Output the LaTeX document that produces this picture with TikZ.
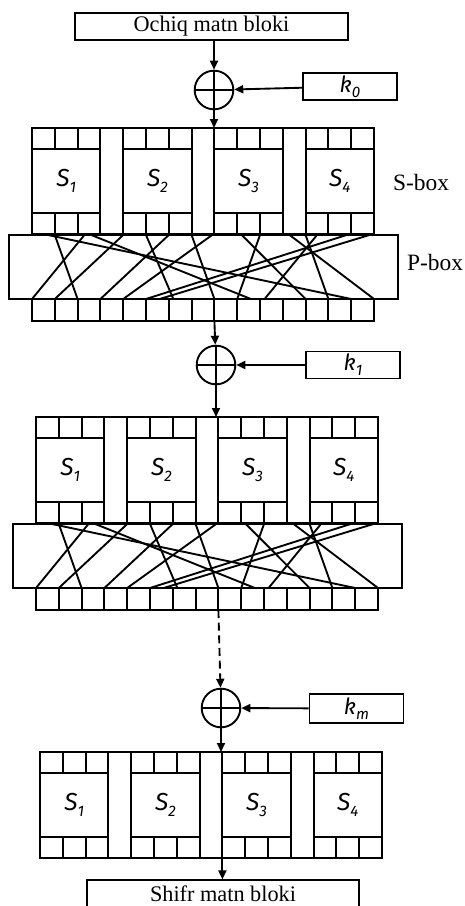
\documentclass[tikz,border=0pt]{standalone}
\usepackage{fontspec}
\setmainfont{Liberation Serif}
\newfontfamily\lblfont{Fira Sans}
\usetikzlibrary{arrows.meta,positioning,calc}
\newcommand{\slbl}[2]{{\lblfont\itshape #1}\raisebox{-0.5ex}{\lblfont\itshape\fontsize{13}{13}\selectfont #2}}

\begin{document}
\begin{tikzpicture}[
x=0.3mm,
y=-0.3mm,
line width=1.6pt,
every node/.style={font=\fontsize{19}{21}\selectfont},
blockbox/.style={rectangle,draw,inner sep=0pt,minimum width=82mm,minimum height=8.1mm},
keybox/.style={rectangle,draw,inner sep=0pt,minimum width=28.2mm,minimum height=8.1mm},
xor/.style={circle,draw,inner sep=0pt,minimum size=11.6mm,path picture={
  \draw (path picture bounding box.north) -- (path picture bounding box.south)
        (path picture bounding box.west) -- (path picture bounding box.east);}},
sbox/.style={rectangle,draw,inner sep=0pt,minimum width=20.52mm,minimum height=19.2mm,font=\fontsize{21}{23}\selectfont},
pbox/.style={rectangle,draw,inner sep=0pt,minimum width=116.7mm,minimum height=19.2mm},
arr/.style={-{Triangle[length=2.7mm,width=2.4mm]}},
wire/.style={line join=round,line cap=round},
side/.style={font=\fontsize{20}{22}\selectfont}
]
\useasboundingbox (0,0) rectangle (464,906);
\clip (0,0) rectangle (464,906);

% S-box layers
\foreach \bx/\by/\b in {32/128/1,36/417/2,40/752/3}{
  \draw (\bx,\by) rectangle ++(342,106);
  \foreach \k in {0,...,3}{
    \pgfmathtruncatemacro{\n}{\k+1}
    \node[sbox] (s\b\n) at (\bx+91.2*\k+34.2,\by+53) {\slbl{S}{\n}};
    \draw (\bx+91.2*\k,\by) -- ++(0,106) (\bx+91.2*\k+68.4,\by) -- ++(0,106);
    \draw (\bx+91.2*\k+22.8,\by) -- ++(0,21) (\bx+91.2*\k+45.6,\by) -- ++(0,21);
    \draw (\bx+91.2*\k+22.8,\by+85) -- ++(0,21) (\bx+91.2*\k+45.6,\by+85) -- ++(0,21);
  }
}

% P-box layers
\foreach \bx/\by/\b in {32/128/1,36/417/2}{
  \node[pbox] (p\b) at (\bx+171.5,\by+139) {};
  \draw (\bx,\by+171) rectangle ++(342,22);
  \foreach \i in {1,...,14}
    \draw (\bx+22.8*\i,\by+171) -- ++(0,22);
  \foreach \i/\o in {0.7/14,1/2,2.3/0,2.6/9.6,4/1,5/6.2,6/3,7/8,7.9/4,9.2/12,10/9,11.3/15,12/13,12.5/10.2,13.8/5,14.8/5.6}
    \draw[wire] (\bx+22.8*\i,\by+107) -- (\bx+22.8*\o,\by+171);
}

\node[side] (slabel) at (421,182) {S-box};
\node[side] (plabel) at (435,262) {P-box};

\node[blockbox] (plain) at (211.5,26.5) {Ochiq matn bloki};
\node[xor] (x0) at (214,90) {};
\node[keybox] (k0) at (350,86.5) {\slbl{k}{0}};
\node[xor] (x1) at (216,365) {};
\node[keybox] (k1) at (353,365) {\slbl{k}{1}};
\node[xor] (xm) at (221,708) {};
\node[keybox,minimum height=8.7mm] (km) at (356.5,708.5) {\slbl{k}{m}};
\node[blockbox,minimum width=81.6mm,minimum height=8.2mm] (cipher) at (223,894) {Shifr matn bloki};

\coordinate (in1) at (214,128);
\coordinate (out1) at (214.4,321);
\coordinate (in2) at (216,417);
\coordinate (out2) at (218.4,610);
\coordinate (in3) at (221,752);
\coordinate (out3) at (222.4,858);

\draw[arr] (plain.south -| x0) -- (x0);
\draw[arr] (x0) -- (in1);
\draw[arr] (k0) -- (x0);
\draw[arr] (out1) -- (x1);
\draw[arr] (x1) -- (in2);
\draw[arr] (k1) -- (x1);
\draw[arr,dash pattern=on 2.4mm off 1.4mm] (out2) -- (xm);
\draw[arr] (xm) -- (in3);
\draw[arr] (km) -- (xm);
\draw[arr] (out3) -- (cipher.north -| out3);
\end{tikzpicture}
\end{document}
